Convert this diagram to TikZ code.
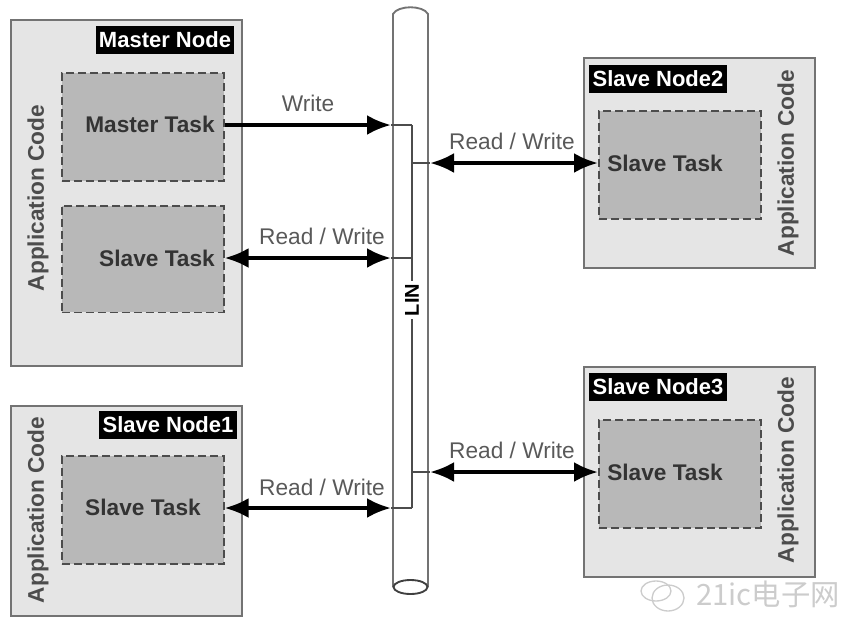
\documentclass[tikz,border=0pt]{standalone}
\usepackage{fontspec}
\setmainfont{Liberation Sans}
\newfontfamily\cjkfont{Noto Sans CJK SC}
\usetikzlibrary{arrows.meta,calc,positioning}
\definecolor{nodegray}{gray}{0.90}
\definecolor{taskgray}{gray}{0.72}
\definecolor{edgegray}{gray}{0.45}
\definecolor{wmgray}{gray}{0.80}
\tikzset{
  nodebox/.style={draw=edgegray,line width=1.6pt,fill=nodegray,minimum width=#1,anchor=north west,inner sep=0pt},
  taskbox/.style={draw=black!70,dash pattern=on 6pt off 3pt,line width=1.2pt,fill=taskgray,anchor=north west,inner sep=0pt,minimum width=121.5pt,minimum height=81pt},
  nodetag/.style={fill=black,text=white,font=\bfseries\fontsize{16.5}{18}\selectfont,inner sep=2.5pt,minimum height=21pt},
  tasklabel/.style={font=\bfseries\fontsize{17}{19}\selectfont,text=black!80},
  applabel/.style={font=\bfseries\fontsize{17}{19}\selectfont,text=black!70,rotate=90},
  linklabel/.style={font=\fontsize{17}{19}\selectfont,text=black!65},
  linkarrow/.style={line width=2.8pt,{Latex[length=18pt,width=15pt]}-{Latex[length=18pt,width=15pt]}},
  writearrow/.style={line width=2.8pt,-{Latex[length=18pt,width=15pt]}},
  thinline/.style={draw=black!70,line width=0.9pt}
}
\begin{document}
\begin{tikzpicture}[x=0.75pt,y=-0.75pt]
\useasboundingbox (0,0) rectangle (846,619);
% node boxes
\node[nodebox=173pt,minimum height=259.5pt] (master) at (10,19) {};
\node[nodebox=173pt,minimum height=157.5pt] (slavea) at (10,405) {};
\node[nodebox=173pt,minimum height=157.5pt] (slaveb) at (583,57) {};
\node[nodebox=173pt,minimum height=157.5pt] (slavec) at (583,366) {};
% task boxes
\node[taskbox] (mtask) at (61,72) {};
\node[taskbox,minimum height=80pt] (stask) at (61,205) {};
\node[taskbox] (atask) at (61,455) {};
\node[taskbox] (btask) at (598,110) {};
\node[taskbox] (ctask) at (598,419) {};
% titles
\node[nodetag] (mtag) at (165,40) {Master Node};
\node[nodetag] (atag) at (168,425) {Slave Node1};
\node[nodetag] (btag) at (658,79) {Slave Node2};
\node[nodetag] (ctag) at (658,387) {Slave Node3};
\node[tasklabel] (mtext) at (150,124) {Master Task};
\node[tasklabel] (stext) at (157,258) {Slave Task};
\node[tasklabel] (atext) at (143,507) {Slave Task};
\node[tasklabel] (btext) at (665,163) {Slave Task};
\node[tasklabel] (ctext) at (665,472) {Slave Task};
\node[applabel] (mapp) at (38,198) {Application Code};
\node[applabel] (aapp) at (38,510) {Application Code};
\node[applabel] (bapp) at (788,163) {Application Code};
\node[applabel] (capp) at (788,470) {Application Code};
% bus
\draw[edgegray,line width=1.4pt,fill=white] (393,587) -- (393,14) .. controls (398,5) and (423,5) .. (428,14) -- (428,587);
\draw[black!75,line width=1.4pt,fill=white] (410.5,587) ellipse (17 and 7);
\coordinate (mbus) at (412,125);
\coordinate (sbus) at (412,258);
\coordinate (abus) at (412,508);
\coordinate (bbus) at (412,163);
\coordinate (cbus) at (412,472);
\draw[thinline] (mbus) -- (abus);
\node[fill=white,inner sep=2pt,rotate=90,font=\bfseries\fontsize{15}{17}\selectfont] (lin) at (412,300) {LIN};
% connectors
\coordinate (mend) at (391,125);
\coordinate (send) at (391,258);
\coordinate (aend) at (391,508);
\coordinate (bend) at (430,163);
\coordinate (cend) at (430,472);
\draw[thinline] (mend) -- (mbus);
\draw[thinline] (send) -- (sbus);
\draw[thinline] (aend) -- (abus);
\draw[thinline] (bbus) -- (bend);
\draw[thinline] (cbus) -- (cend);
\draw[writearrow] (mtask.east |- mend) -- (mend);
\draw[linkarrow] (stask.east |- send) -- (send);
\draw[linkarrow] (atask.east |- aend) -- (aend);
\draw[linkarrow] (bend) -- (btask.west |- bend);
\draw[linkarrow] (cend) -- (ctask.west |- cend);
\node[linklabel] (wlabel) at (308,103) {Write};
\node[linklabel] (slabel) at (322,236) {Read / Write};
\node[linklabel] (alabel) at (322,487) {Read / Write};
\node[linklabel] (blabel) at (512,141) {Read / Write};
\node[linklabel] (clabel) at (512,450) {Read / Write};
% watermark
\draw[wmgray,line width=1pt] (668,598) ellipse (16 and 13);
\draw[wmgray,line width=1pt] (656,591) ellipse (15 and 10);
\node[text=wmgray,font=\cjkfont\fontsize{22}{24}\selectfont,anchor=west,inner sep=0pt] (mark) at (696,594) {21ic电子网};
\end{tikzpicture}
\end{document}
